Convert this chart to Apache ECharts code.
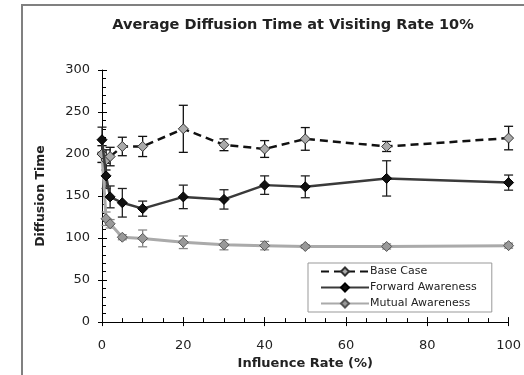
<!DOCTYPE html>
<html><head><meta charset="utf-8">
<script src="https://cdn.jsdelivr.net/npm/echarts@6/dist/echarts.min.js"></script>
<style>
html,body{margin:0;padding:0;background:#fff;width:524px;height:375px;overflow:hidden;}
#frame{position:absolute;left:21px;top:4px;width:510px;height:380px;border-left:2px solid #808080;border-top:2px solid #808080;}
#chart{position:absolute;left:0;top:0;width:524px;height:375px;}
</style></head>
<body><div id="frame"></div><div id="chart"></div>
<script>
const xValues   = [0, 1, 2, 5, 10, 20, 30, 40, 50, 70, 100];
const baseMean  = [200, 193, 197, 209, 209, 230, 211, 206, 218, 209, 219];
const baseErr   = [10, 12, 11, 11, 12, 28, 7, 10, 13.5, 6, 14];
const fwdMean   = [217, 174, 149, 142, 135, 149, 146, 163, 161, 171, 166];
const fwdErr    = [15, 15, 13, 17, 9, 14, 11.5, 11, 13, 21, 9];
const mutMean   = [200, 123, 117, 101, 99.6, 95, 92, 91, 90, 90, 91];
const mutErr    = [10, 8, 5, 3, 10, 7.5, 6, 5, 2, 3, 3];
const xTicks = [0, 20, 40, 60, 80, 100];
const yTicks = [0, 50, 100, 150, 200, 250, 300];

const font = 'DejaVu Sans, Verdana, sans-serif';
function pts(m){ return xValues.map((x,i)=>[x,m[i]]); }
function errs(m,e){ return xValues.map((x,i)=>[x,m[i]-e[i],m[i]+e[i]]); }
function errSeries(m,e,color){
  return {type:'custom', z:1, silent:true, data:errs(m,e), encode:{x:0,y:[1,2]},
    renderItem:function(params,api){
      const x=api.value(0), lo=api.value(1), hi=api.value(2);
      const a=api.coord([x,hi]), b=api.coord([x,lo]); const w=4.5;
      const st={stroke:color,lineWidth:1.3};
      return {type:'group',children:[
        {type:'line',shape:{x1:a[0],y1:a[1],x2:b[0],y2:b[1]},style:st},
        {type:'line',shape:{x1:a[0]-w,y1:a[1],x2:a[0]+w,y2:a[1]},style:st},
        {type:'line',shape:{x1:b[0]-w,y1:b[1],x2:b[0]+w,y2:b[1]},style:st}
      ]};
    }};
}
const chart = echarts.init(document.getElementById('chart'), null, {renderer:'canvas'});
const grid = {left:102, right:14, top:70, bottom:51};
const axLine = {show:true, lineStyle:{color:'#000', width:1}};
chart.setOption({
  animation:false,
  backgroundColor:'transparent',
  title:{text:'Average Diffusion Time at Visiting Rate 10%', left:288, top:13, textAlign:'center',
    textStyle:{fontFamily:font, fontSize:14.5, fontWeight:'bold', color:'#222'}},
  grid:grid,
  legend:{data:['Base Case','Forward Awareness','Mutual Awareness'], orient:'vertical', left:308, top:263,
    width:182, itemWidth:48, itemHeight:10, itemGap:5, padding:[3,15,3,12], borderColor:'#999', borderWidth:1,
    textStyle:{fontFamily:font, fontSize:11, color:'#222', padding:[0,0,0,-4]}},
  xAxis:[
    {type:'value', min:0, max:100, interval:20, position:'bottom',
     axisLine:axLine, axisTick:{show:true, length:4, lineStyle:{color:'#000'}},
     axisLabel:{fontFamily:font, fontSize:13, color:'#222', margin:17, formatter:v=>xTicks.includes(v)?String(v):''},
     splitLine:{show:false},
     name:'Influence Rate (%)', nameLocation:'middle', nameGap:31,
     nameTextStyle:{fontFamily:font, fontSize:13, fontWeight:'bold', color:'#222'}},
    {type:'value', min:0, max:100, interval:20, position:'bottom', offset:0,
     axisLine:{show:false}, axisTick:{show:true, inside:true, length:5, lineStyle:{color:'#000'}},
     minorTick:{show:true, splitNumber:4, length:4, lineStyle:{color:'#000'}},
     axisLabel:{show:false}, splitLine:{show:false}}
  ],
  yAxis:[
    {type:'value', min:0, max:300, interval:50, position:'left',
     axisLine:axLine, axisTick:{show:true, length:4, lineStyle:{color:'#000'}},
     axisLabel:{fontFamily:font, fontSize:13, color:'#222', margin:12},
     splitLine:{show:false},
     name:'Diffusion Time', nameLocation:'middle', nameGap:55, nameRotate:90,
     nameTextStyle:{fontFamily:font, fontSize:12.5, fontWeight:'bold', color:'#222'}},
    {type:'value', min:0, max:300, interval:50, position:'left', offset:0,
     axisLine:{show:false}, axisTick:{show:true, inside:true, length:5, lineStyle:{color:'#000'}},
     minorTick:{show:true, splitNumber:5, length:4, lineStyle:{color:'#000'}},
     axisLabel:{show:false}, splitLine:{show:false}}
  ],
  series:[
    errSeries(mutMean, mutErr, '#888'),
    errSeries(baseMean, baseErr, '#111'),
    errSeries(fwdMean, fwdErr, '#222'),
    {name:'Mutual Awareness', type:'line', z:3, data:pts(mutMean), symbol:'diamond', symbolSize:10,
     lineStyle:{color:'#aaa', width:3}, itemStyle:{color:'#999', borderColor:'#555', borderWidth:1}},
    {name:'Base Case', type:'line', z:3, data:pts(baseMean), symbol:'diamond', symbolSize:10,
     lineStyle:{color:'#111', width:2.5, type:[8,5]}, itemStyle:{color:'#aaa', borderColor:'#333', borderWidth:1}},
    {name:'Forward Awareness', type:'line', z:4, data:pts(fwdMean), symbol:'diamond', symbolSize:10,
     lineStyle:{color:'#3a3a3a', width:2.5}, itemStyle:{color:'#111', borderColor:'#000', borderWidth:1}}
  ]
});
</script></body></html>
